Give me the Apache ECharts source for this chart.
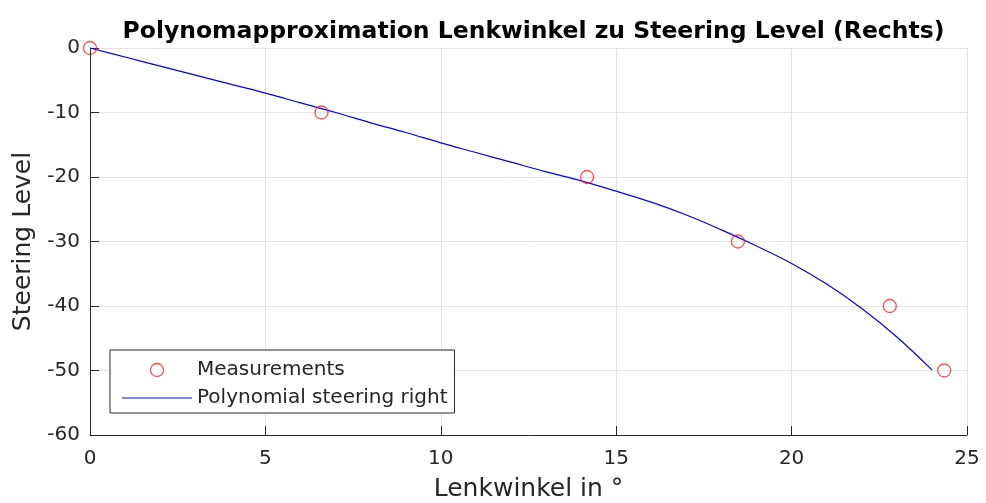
<!DOCTYPE html>
<html>
<head>
<meta charset="utf-8">
<script src="https://cdn.jsdelivr.net/npm/echarts@6/dist/echarts.min.js"></script>
<style>
html,body{margin:0;padding:0;background:#fff;}
#c{width:986px;height:503px;}
</style>
</head>
<body>
<div id="c"></div>
<script>
var measX = [0, 6.6, 14.17, 18.47, 22.8, 24.35];
var measY = [0, -10, -20, -30, -40, -50];
var polyX = [0, 1, 2, 3, 4, 5, 6, 7, 8, 9, 10, 11, 12, 13, 14, 15, 16, 17, 18, 19, 20, 21, 22, 23, 24];
var polyY = [0, -1.4, -2.8, -4.2, -5.6, -7.0, -8.5, -10.0, -11.6, -13.1, -14.7, -16.2, -17.7, -19.2, -20.6, -22.2, -23.9, -25.9, -28.2, -30.7, -33.4, -36.6, -40.4, -44.8, -49.9];
var xTicks = [0, 5, 10, 15, 20, 25];
var yTicks = [-60, -50, -40, -30, -20, -10, 0];

var chart = echarts.init(document.getElementById('c'));
var font = 'DejaVu Sans';
var linePath = 'path://M0,0L0.01,0L0.01,0.01L0,0.01Z M0,5.9L70,5.9L70,7.1L0,7.1Z M0,13L0.01,13L0.01,12.99L0,12.99Z';
chart.setOption({
  animation: false,
  backgroundColor: '#fff',
  title: {
    text: 'Polynomapproximation Lenkwinkel zu Steering Level (Rechts)',
    left: 528.5, top: 15, textAlign: 'center',
    textStyle: {fontFamily: font, fontSize: 23.5, fontWeight: 'bold', color: '#000'}
  },
  legend: {
    orient: 'vertical', left: 110, top: 350,
    backgroundColor: '#fff', borderColor: '#262626', borderWidth: 1,
    padding: [10, 7, 5, 12], itemGap: 8, itemWidth: 70, itemHeight: 13,
    textStyle: {fontFamily: font, fontSize: 20, color: '#262626'},
    data: [
      {name: 'Measurements', icon: 'circle',
       itemStyle: {color: 'rgba(0,0,0,0)', borderColor: '#ff2020', borderWidth: 1.3}},
      {name: 'Polynomial steering right', icon: linePath,
       itemStyle: {color: '#0000ff', borderWidth: 0}}
    ]
  },
  grid: {left: 90, right: 19, top: 48, bottom: 68, containLabel: false, outerBoundsMode: 'none'},
  xAxis: {
    type: 'value', min: xTicks[0], max: xTicks[xTicks.length-1], interval: 5,
    name: 'Lenkwinkel in °', nameLocation: 'middle', nameGap: 42,
    nameTextStyle: {fontFamily: font, fontSize: 25, color: '#262626'},
    axisLine: {onZero: false, lineStyle: {color: '#262626', width: 1}},
    axisTick: {inside: true, length: 9, lineStyle: {color: '#262626'}},
    axisLabel: {fontFamily: font, fontSize: 20, color: '#262626', margin: 14},
    splitLine: {show: true, lineStyle: {color: '#e3e3e3', width: 1}}
  },
  yAxis: {
    type: 'value', min: yTicks[0], max: yTicks[yTicks.length-1], interval: 10,
    name: 'Steering Level', nameLocation: 'middle', nameGap: 50,
    nameTextStyle: {fontFamily: font, fontSize: 25, color: '#262626'},
    axisLine: {show: true, onZero: false, lineStyle: {color: '#262626', width: 1}},
    axisTick: {show: true, inside: true, length: 9, lineStyle: {color: '#262626'}},
    axisLabel: {fontFamily: font, fontSize: 20, color: '#262626', margin: 10},
    splitLine: {show: true, lineStyle: {color: '#e3e3e3', width: 1}}
  },
  series: [
    {
      name: 'Measurements', type: 'scatter',
      data: measX.map(function(x, i){ return [x, measY[i]]; }),
      symbol: 'circle', symbolSize: 13,
      itemStyle: {color: 'rgba(0,0,0,0)', borderColor: '#ff2020', borderWidth: 1.3},
      z: 3
    },
    {
      name: 'Polynomial steering right', type: 'line',
      data: polyX.map(function(x, i){ return [x, polyY[i]]; }),
      smooth: 0.4, showSymbol: false, symbol: 'none',
      lineStyle: {color: '#0000ff', width: 1.2},
      itemStyle: {color: '#0000ff'},
      z: 2
    }
  ]
});
</script>
</body>
</html>
